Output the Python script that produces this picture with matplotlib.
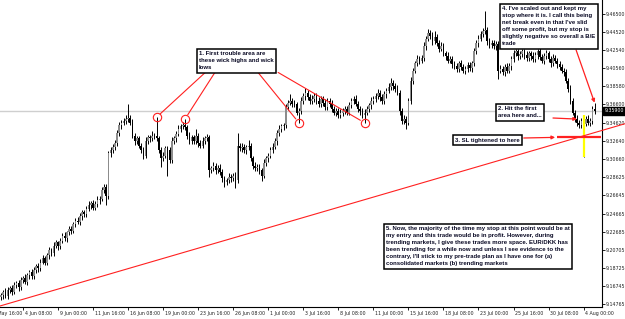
import numpy as np
import matplotlib.pyplot as plt
from matplotlib.transforms import blended_transform_factory

# EUR/DKK H4 bars, 16 bars per row (= one time label step)
close = [
    9.157, 9.161, 9.156, 9.163, 9.165, 9.161, 9.168, 9.171, 9.166, 9.174, 9.176, 9.172, 9.179, 9.183, 9.178, 9.185,
    9.189, 9.187, 9.193, 9.198, 9.193, 9.201, 9.207, 9.203, 9.211, 9.215, 9.211, 9.217, 9.222, 9.220, 9.226, 9.230,
    9.228, 9.235, 9.239, 9.237, 9.244, 9.248, 9.246, 9.252, 9.256, 9.258, 9.253, 9.257, 9.261, 9.263, 9.272, 9.276,
    9.266, 9.313, 9.316, 9.319, 9.324, 9.335, 9.343, 9.346, 9.348, 9.350, 9.351, 9.346, 9.332, 9.326, 9.329, 9.321,
    9.316, 9.310, 9.326, 9.330, 9.329, 9.332, 9.331, 9.329, 9.316, 9.307, 9.310, 9.318, 9.316, 9.305, 9.326, 9.329,
    9.334, 9.339, 9.342, 9.344, 9.341, 9.332, 9.326, 9.330, 9.326, 9.332, 9.324, 9.321, 9.326, 9.329, 9.330, 9.294,
    9.296, 9.299, 9.294, 9.297, 9.292, 9.285, 9.281, 9.283, 9.287, 9.285, 9.288, 9.283, 9.321, 9.318, 9.320, 9.316,
    9.319, 9.321, 9.307, 9.299, 9.296, 9.298, 9.294, 9.288, 9.302, 9.307, 9.310, 9.316, 9.320, 9.326, 9.335, 9.339,
    9.342, 9.343, 9.363, 9.368, 9.370, 9.367, 9.366, 9.357, 9.359, 9.370, 9.375, 9.379, 9.374, 9.370, 9.372, 9.375,
    9.370, 9.366, 9.372, 9.368, 9.363, 9.370, 9.367, 9.361, 9.357, 9.359, 9.354, 9.357, 9.359, 9.361, 9.357, 9.365,
    9.370, 9.372, 9.367, 9.361, 9.359, 9.354, 9.357, 9.361, 9.365, 9.370, 9.372, 9.375, 9.379, 9.374, 9.370, 9.377,
    9.381, 9.385, 9.390, 9.386, 9.383, 9.379, 9.359, 9.348, 9.350, 9.346, 9.370, 9.392, 9.403, 9.411, 9.416, 9.414,
    9.417, 9.430, 9.438, 9.444, 9.441, 9.435, 9.440, 9.433, 9.427, 9.430, 9.422, 9.419, 9.414, 9.416, 9.410, 9.408,
    9.405, 9.411, 9.407, 9.403, 9.405, 9.409, 9.406, 9.411, 9.424, 9.433, 9.438, 9.443, 9.446, 9.448, 9.435, 9.431,
    9.433, 9.430, 9.432, 9.403, 9.405, 9.401, 9.407, 9.403, 9.408, 9.416, 9.422, 9.424, 9.419, 9.421, 9.424, 9.420,
    9.417, 9.422, 9.419, 9.416, 9.420, 9.424, 9.418, 9.414, 9.419, 9.422, 9.416, 9.411, 9.417, 9.414, 9.410, 9.407,
    9.403, 9.401, 9.392, 9.383, 9.370, 9.357, 9.350, 9.346, 9.343, 9.348, 9.345, 9.350, 9.346, 9.348, 9.361, 9.359,
]
first_open = 9.155

# wick lengths beyond the body, in 0.001
wick_up = [
    3, 2, 4, 3, 2, 3, 4, 2, 3, 3, 2, 4, 3, 2, 3, 3,
    2, 3, 4, 3, 2, 3, 3, 2, 4, 3, 2, 3, 3, 4, 2, 3,
    3, 2, 3, 4, 3, 2, 3, 3, 4, 2, 3, 3, 5, 3, 4, 3,
    3, 2, 3, 4, 3, 3, 4, 3, 3, 5, 15, 3, 4, 3, 3, 2,
    3, 3, 4, 3, 3, 5, 3, 21, 3, 3, 4, 3, 3, 3, 4, 3,
    3, 4, 3, 3, 6, 3, 4, 3, 3, 7, 3, 3, 4, 3, 4, 3,
    3, 4, 3, 3, 4, 3, 3, 3, 4, 3, 3, 4, 14, 3, 4, 3,
    3, 6, 3, 3, 4, 3, 3, 3, 4, 3, 3, 3, 4, 3, 3, 4,
    3, 3, 4, 3, 7, 3, 4, 3, 3, 4, 3, 5, 3, 3, 4, 3,
    3, 4, 3, 3, 4, 3, 3, 4, 3, 3, 3, 4, 3, 3, 3, 4,
    3, 3, 4, 3, 3, 3, 4, 3, 3, 4, 3, 3, 4, 3, 3, 4,
    3, 4, 5, 3, 3, 4, 3, 3, 4, 3, 3, 4, 3, 3, 4, 3,
    3, 4, 3, 5, 3, 4, 6, 3, 3, 4, 3, 3, 4, 3, 3, 4,
    3, 3, 4, 3, 3, 4, 3, 3, 4, 3, 4, 3, 4, 20, 3, 4,
    3, 4, 3, 3, 4, 3, 3, 4, 3, 3, 4, 3, 3, 4, 3, 3,
    4, 3, 3, 4, 3, 3, 4, 3, 3, 4, 3, 3, 4, 3, 3, 4,
    3, 3, 4, 3, 4, 3, 3, 4, 3, 3, 6, 3, 4, 3, 3, 7,
]
wick_dn = [
    3, 4, 2, 3, 3, 4, 2, 3, 4, 3, 3, 2, 3, 4, 3, 3,
    3, 4, 3, 2, 3, 3, 4, 3, 3, 2, 4, 3, 3, 3, 4, 3,
    4, 3, 3, 2, 3, 4, 3, 3, 3, 4, 3, 3, 3, 4, 3, 3,
    10, 3, 4, 3, 3, 3, 3, 4, 3, 3, 3, 3, 3, 4, 3, 3,
    3, 4, 3, 3, 4, 3, 3, 3, 3, 9, 3, 3, 28, 3, 3, 3,
    4, 3, 3, 3, 3, 4, 3, 3, 3, 3, 4, 3, 3, 3, 3, 7,
    3, 3, 4, 3, 3, 4, 5, 3, 3, 4, 3, 8, 3, 3, 4, 3,
    4, 3, 3, 4, 3, 3, 4, 6, 3, 3, 4, 3, 3, 3, 4, 3,
    3, 4, 3, 3, 3, 4, 3, 3, 11, 3, 3, 4, 3, 3, 4, 3,
    4, 3, 3, 4, 3, 3, 4, 3, 3, 4, 3, 3, 4, 3, 3, 3,
    3, 4, 3, 3, 4, 3, 8, 3, 3, 4, 3, 3, 3, 4, 3, 3,
    4, 3, 3, 4, 3, 3, 4, 3, 3, 7, 3, 3, 4, 3, 3, 4,
    3, 3, 4, 3, 3, 4, 3, 3, 4, 3, 3, 4, 3, 3, 4, 3,
    3, 4, 3, 3, 4, 3, 3, 4, 3, 3, 4, 3, 3, 3, 4, 3,
    3, 3, 4, 9, 3, 3, 4, 3, 3, 4, 3, 3, 4, 3, 3, 4,
    3, 3, 4, 3, 3, 4, 3, 3, 4, 3, 3, 4, 3, 3, 4, 3,
    3, 4, 3, 3, 4, 3, 3, 4, 3, 3, 37, 3, 3, 4, 3, 3,
]

x_labels = ["30 May 16:00", "4 Jun 08:00", "9 Jun 00:00", "11 Jun 16:00", "16 Jun 08:00",
            "19 Jun 00:00", "23 Jun 16:00", "26 Jun 08:00", "1 Jul 00:00", "3 Jul 16:00",
            "8 Jul 08:00", "11 Jul 00:00", "15 Jul 16:00", "18 Jul 08:00", "23 Jul 00:00",
            "25 Jul 16:00", "30 Jul 08:00", "4 Aug 00:00"]
first_label_bar = -6
label_step = 16
y_ticks = [9.14765, 9.16745, 9.18725, 9.20705, 9.22685, 9.24665, 9.26645, 9.28625, 9.30660,
           9.32640, 9.34620, 9.36600, 9.38580, 9.40560, 9.42540, 9.44520, 9.46500]

sl_level = 9.330
entry_bar = 266
trend_start = 9.1455   # trendline at left edge
trend_end = 9.345      # trendline at right edge of picture
circles = [(71, "high"), (84, "high"), (136, "low"), (166, "low")]

notes = {
    1: "1. First trouble area are\nthese wick highs and wick\nlows",
    2: "2. Hit the first\narea here and...",
    3: "3. SL tightened to here",
    4: "4. I've scaled out and kept my\nstop where it is. I call this being\nnet break even in that I've slid\n"
       "off some profit, but my stop is\nslightly negative so overall a B/E\ntrade",
    5: "5. Now, the majority of the time my stop at this point would be at\nmy entry and this trade would be in "
       "profit. However, during\ntrending markets, I give these trades more space. EUR/DKK has\nbeen trending "
       "for a while now and unless I see evidence to the\ncontrary, I'll stick to my pre-trade plan as I have one "
       "for (a)\nconsolidated markets (b) trending markets",
}

close = np.array(close)
opens = np.concatenate([[first_open], close[:-1]])
high = np.maximum(opens, close) + np.array(wick_up) / 1000
low = np.minimum(opens, close) - np.array(wick_dn) / 1000
x = np.arange(len(close))

fig = plt.figure(figsize=(6.25, 3.19), dpi=100)
ax = fig.add_axes([0, 12 / 319, 602 / 625, 307 / 319])
ax.set_xlim(-0.46, 274.4)
ax.set_ylim(9.1444, 9.4803)

# bid line
ax.axhline(close[-1], color="#cfcfcf", lw=1, zorder=0)

body_lo = np.minimum(opens, close)
body_h = np.maximum(np.abs(close - opens), 0.0006)
colors = np.where(close >= opens, "#8c8c8c", "black").astype(object)
colors[entry_bar] = "#ffff00"
ax.vlines(x, low, high, colors="black", lw=0.7, zorder=2)
ax.bar(x, body_h, bottom=body_lo, width=0.75, color=list(colors), lw=0, zorder=3)
ax.vlines(entry_bar, low[entry_bar], high[entry_bar], colors="#ffff00", lw=1.6, zorder=4)

# trendline (runs over the price scale too)
ax.plot([-0.46, 285], [trend_start, trend_end], color="#ff2020", lw=0.8, clip_on=False, zorder=5)

# SL level
ax.hlines(sl_level, 254, 274, color="#ff2020", lw=1.6, zorder=5)

# axes styling, MT4 like
for s in ["top", "left"]:
    ax.spines[s].set_visible(False)
for s in ["right", "bottom"]:
    ax.spines[s].set_linewidth(0.8)
ax.yaxis.tick_right()
ax.set_yticks(y_ticks)
ax.set_yticklabels([f"{v:.5f}" for v in y_ticks], fontsize=3.4, color="#222222")
ax.tick_params(axis="y", length=2, width=0.6, pad=0.6)

# time labels sit to the right of their tick
tick_pos = [first_label_bar + label_step * k for k in range(len(x_labels))]
ax.set_xticks([t for t in tick_pos if t >= 0])
ax.set_xticklabels([])
ax.tick_params(axis="x", length=2.5, width=0.6)
trx = blended_transform_factory(ax.transData, ax.transAxes)
for t, lab in zip(tick_pos, x_labels):
    ax.text(t + 0.8, -0.012, lab, transform=trx, fontsize=3.4, color="#222222",
            ha="left", va="top", clip_on=False)

# current price tag
tr = blended_transform_factory(ax.transAxes, ax.transData)
ax.text(1.004, close[-1], f"{close[-1]:.5f}", transform=tr, fontsize=3.4, color="white",
        va="center", ha="left", zorder=10, clip_on=False,
        bbox=dict(boxstyle="square,pad=0.25", fc="black", ec="black"))

box = dict(boxstyle="square,pad=0.4", fc="white", ec="black", lw=1.1)
txt = dict(fontsize=4.3, fontweight="bold", color="#0a0a25", va="top", ha="left",
           transform=ax.transAxes, bbox=box, zorder=8, linespacing=1.5, family="Liberation Sans")
ax.text(0.3306, 0.8335, notes[1], **txt)
ax.text(0.8272, 0.654, notes[2], **txt)
ax.text(0.7558, 0.551, notes[3], **txt)
ax.text(0.8339, 0.980, notes[4], **txt)
ax.text(0.6412, 0.263, notes[5], **txt)

# box 1 lines to the circled wicks
starts = [(0.341, 0.764), (0.357, 0.764), (0.4286, 0.764), (0.462, 0.764)]
for (bar, side), st in zip(circles, starts):
    yv = high[bar] if side == "high" else low[bar]
    ax.plot(bar, yv, "o", mfc="none", mec="#ff2020", ms=6, mew=0.8, zorder=7)
    ax.annotate("", xy=(bar, yv), xytext=st, textcoords="axes fraction",
                arrowprops=dict(arrowstyle="-", color="#ff2020", lw=0.8, shrinkA=0, shrinkB=3.5))

arrow = dict(arrowstyle="-|>", color="#ff2020", lw=0.9, mutation_scale=5, shrinkA=0, shrinkB=0)
ax.annotate("", xy=(263, close[262]), xytext=(0.9186, 0.6156), textcoords="axes fraction", arrowprops=arrow)
ax.annotate("", xy=(253, sl_level), xytext=(0.870, 0.5505), textcoords="axes fraction", arrowprops=arrow)
ax.annotate("", xy=(271, high[271]), xytext=(0.957, 0.837), textcoords="axes fraction", arrowprops=arrow)

fig.savefig("out.png", dpi=100)
